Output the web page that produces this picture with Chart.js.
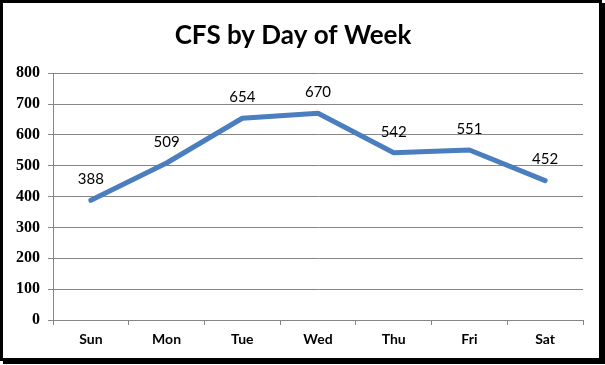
<!DOCTYPE html>
<html>
<head>
<meta charset="utf-8">
<script src="https://cdn.jsdelivr.net/npm/chart.js@4/dist/chart.umd.min.js"></script>
<style>
  html, body { margin: 0; padding: 0; background: #fff; }
  #frame {
    position: absolute; left: 0; top: 0;
    width: 596px; height: 355px;
    border: 3px solid #000;
    box-shadow: 3px 3px 0 #000;
    background: #fff;
  }
  canvas { display: block; }
</style>
</head>
<body>
<div id="frame"><canvas id="chart" width="596" height="355"></canvas></div>
<script>
const days = ["Sun", "Mon", "Tue", "Wed", "Thu", "Fri", "Sat"];
const calls = [388, 509, 654, 670, 542, 551, 452];
const yTicks = [0, 100, 200, 300, 400, 500, 600, 700, 800];

// write the value above each point of the line
const valueLabels = {
  id: 'valueLabels',
  afterDatasetsDraw(chart) {
    const ctx = chart.ctx;
    const meta = chart.getDatasetMeta(0);
    ctx.save();
    ctx.font = '15px Lato';
    ctx.fillStyle = '#000';
    ctx.textAlign = 'center';
    ctx.textBaseline = 'middle';
    meta.data.forEach((pt, i) => {
      ctx.fillText(String(calls[i]), pt.x, pt.y - 21);
    });
    ctx.restore();
  }
};

const ctx = document.getElementById('chart').getContext('2d');
new Chart(ctx, {
  type: 'line',
  data: {
    labels: days,
    datasets: [{
      label: 'CFS',
      data: calls,
      borderColor: '#4A7EBE',
      borderWidth: 5,
      borderJoinStyle: 'round',
      borderCapStyle: 'round',
      pointRadius: 0,
      tension: 0,
      fill: false
    }]
  },
  options: {
    responsive: false,
    animation: false,
    layout: { padding: { top: 0, right: 16, bottom: 0, left: 0 } },
    plugins: {
      legend: { display: false },
      tooltip: { enabled: false },
      title: {
        display: true,
        text: 'CFS by Day of Week',
        color: '#000',
        font: { family: 'Lato', size: 26, weight: 'bold', lineHeight: 1.2 },
        padding: { top: 17, bottom: 22 }
      }
    },
    scales: {
      x: {
        offset: true,
        grid: { display: true, drawOnChartArea: false, drawTicks: true, tickLength: 5, offset: true, color: '#868686' },
        border: { display: true, color: '#868686', width: 1 },
        ticks: { color: '#000', padding: 6, font: { family: 'Lato', size: 14, weight: 'bold' }, maxRotation: 0 },
        afterFit(scale) { scale.height = 38; }
      },
      y: {
        min: 0,
        max: 800,
        afterBuildTicks(scale) { scale.ticks = yTicks.map(v => ({ value: v })); },
        grid: { color: '#868686', drawTicks: true, tickLength: 5 },
        border: { display: true, color: '#868686', width: 1 },
        ticks: { color: '#000', padding: 8, font: { family: 'Liberation Serif', size: 16, weight: 'bold' } },
        afterFit(scale) { scale.width = 50; }
      }
    }
  },
  plugins: [valueLabels]
});
</script>
</body>
</html>
